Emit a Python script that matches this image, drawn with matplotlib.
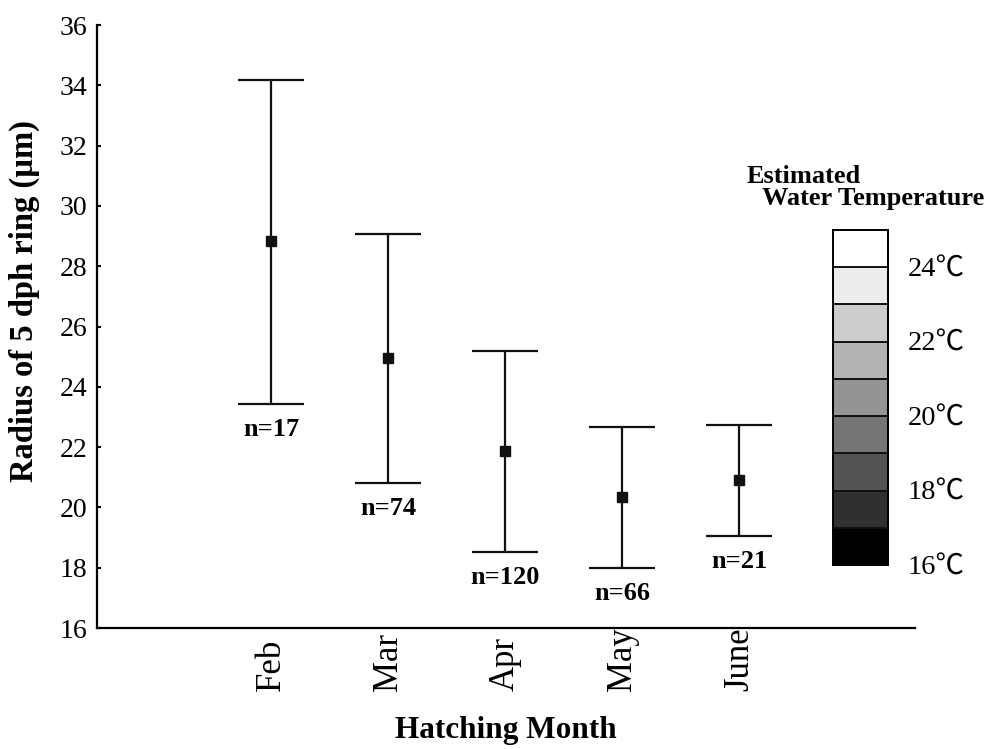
import matplotlib
matplotlib.use("Agg")
import matplotlib.pyplot as plt

plt.rcParams['font.family'] = ['Liberation Serif', 'DejaVu Serif']
plt.rcParams['mathtext.fontset'] = 'stix'

# Mean radius with lower/upper range per hatching month
months = ["Feb", "Mar", "Apr", "May", "June"]
means = [28.84, 24.96, 21.87, 20.35, 20.91]
lower = [23.43, 20.81, 18.52, 17.99, 19.05]
upper = [34.18, 29.07, 25.19, 22.67, 22.73]
sample_sizes = [17, 74, 120, 66, 21]

# Temperature scale (1 degree bands) and grey shade for each band
temp_edges = [16, 17, 18, 19, 20, 21, 22, 23, 24, 25]
band_greys = [0.0, 0.19, 0.33, 0.46, 0.58, 0.70, 0.80, 0.93, 1.0]
temp_ticks = [16, 18, 20, 22, 24]

fig = plt.figure(figsize=(9.86, 7.49), dpi=100)
ax = fig.add_axes([0.0984, 0.1615, 0.8296, 0.8051])

x = list(range(len(months)))
yerr = [[m - lo for m, lo in zip(means, lower)],
        [hi - m for m, hi in zip(means, upper)]]
ax.errorbar(x, means, yerr=yerr, fmt='s', color='#111111', ecolor='#111111',
            markersize=6.5, elinewidth=1.6, capsize=24, capthick=1.6)

for xi, lo, n in zip(x, lower, sample_sizes):
    ax.annotate(f"n={n}", xy=(xi, lo), xytext=(0, -10), textcoords='offset points',
                ha='center', va='top', fontsize=19, fontweight='bold')

ax.set_xlim(-1.49, 5.5)
ax.set_ylim(16, 36)
ax.set_yticks(range(16, 37, 2))
ax.tick_params(axis='y', direction='in', length=3, width=1.5, pad=7, labelsize=20)
ax.set_xticks(x)
ax.set_xticklabels(months, rotation=90, rotation_mode='anchor', ha='left', va='center')
ax.tick_params(axis='x', length=0, pad=45, labelsize=25)

for side in ('top', 'right'):
    ax.spines[side].set_visible(False)
for side in ('left', 'bottom'):
    ax.spines[side].set_linewidth(1.6)

ax.set_ylabel("Radius of 5 dph ring (\u00b5m)", fontsize=23.5, fontweight='bold')
ax.yaxis.set_label_coords(-0.07, 0.542)
ax.set_xlabel("Hatching Month", fontsize=22.5, fontweight='bold', va='top')
ax.xaxis.set_label_coords(0.5, -0.146)

# Temperature legend bar
cax = fig.add_axes([0.8448, 0.2457, 0.0558, 0.4473])
for lo_t, hi_t, g in zip(temp_edges[:-1], temp_edges[1:], band_greys):
    cax.bar(0, hi_t - lo_t, bottom=lo_t, width=1, color=str(g),
            edgecolor='#111111', linewidth=1.4)
cax.set_xlim(-0.5, 0.5)
cax.set_ylim(temp_edges[0], temp_edges[-1])
cax.set_xticks([])
cax.set_yticks(temp_ticks)
cax.set_yticklabels([f"{t}\u2103" for t in temp_ticks],
                    family=['Liberation Serif', 'Noto Sans CJK JP', 'DejaVu Serif'])
cax.yaxis.tick_right()
cax.tick_params(axis='y', length=0, pad=14, labelsize=20.5)
for s in cax.spines.values():
    s.set_linewidth(1.4)

fig.text(747 / 986, 1 - 183 / 749, "Estimated", fontsize=19, fontweight='bold',
         ha='left', va='baseline')
fig.text(762 / 986, 1 - 205 / 749, "Water Temperature", fontsize=19, fontweight='bold',
         ha='left', va='baseline')

fig.savefig("out.png", dpi=100)
